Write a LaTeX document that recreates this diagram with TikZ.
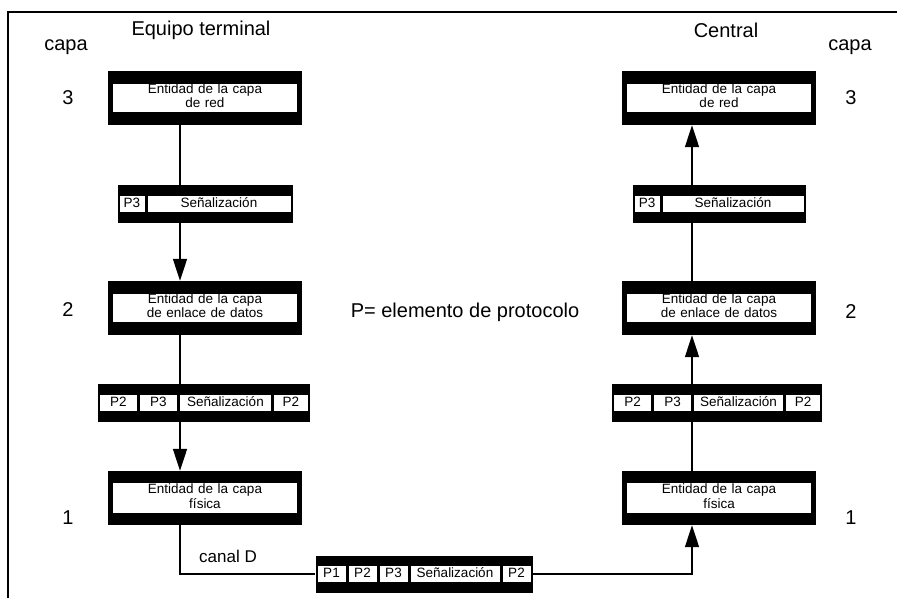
\documentclass[tikz,border=0pt]{standalone}
\usepackage{fontspec}
\setmainfont{Liberation Sans}
\usepackage{tikz}
\usetikzlibrary{arrows.meta,positioning}
\tikzset{
  entidad/.style={fill=black,minimum width=194pt,minimum height=54pt,inner sep=0pt},
  banda/.style={fill=white,text width=184pt,align=center,inner sep=0pt,
    font=\fontsize{13.5}{14}\selectfont},
  pdu/.style={fill=black,inner xsep=2pt,inner ysep=0pt,minimum height=38pt,
    font=\fontsize{13.5}{15}\selectfont},
  rotulo/.style={font=\fontsize{20}{24}\selectfont},
  enlace/.style={line width=1.5pt},
  flecha/.style={line width=1.5pt,-{Triangle[length=22pt,width=14pt]}},
}
\setlength{\fboxsep}{0.5pt}
% one white field of a protocol element
\newcommand{\campo}[2]{\colorbox{white}{\makebox[#1pt]{\strut #2}}}
% layer entity: black box with a white text band
\newcommand{\entidad}[3]{%
  \node[entidad] (#1) at (#2) {};
  \node[banda] (#1t) at (#1) {\strut #3\strut};}

\begin{document}
\begin{tikzpicture}[x=1pt,y=-1pt,line cap=butt,line join=miter]
  \useasboundingbox (0,0) rectangle (897,598);

  % ---- frame (runs off right and bottom) ----
  \draw[line width=1.8pt] (8,598) -- (8,12) -- (897,12);

  % ---- headings ----
  \node[rotulo] (tcapaL) at (66,47) {capa};
  \node[rotulo] (tcapaR) at (850,47) {capa};
  \node[rotulo] (tequipo) at (201,30) {Equipo terminal};
  \node[rotulo] (tcentral) at (726,30) {Central};
  \node[rotulo] (n3L) at (68,98) {3};
  \node[rotulo] (n3R) at (851,98) {3};
  \node[rotulo] (n2L) at (68,310) {2};
  \node[rotulo] (n2R) at (851,312) {2};
  \node[rotulo] (n1L) at (68,518) {1};
  \node[rotulo] (n1R) at (851,518) {1};
  \node[rotulo] (leyenda) at (465,312) {P= elemento de protocolo};

  % ---- layer entities ----
  \entidad{red1}{205,98}{Entidad de la capa\\de red}
  \entidad{red2}{719,98}{Entidad de la capa\\de red}
  \entidad{enl1}{205,308}{Entidad de la capa\\de enlace de datos}
  \entidad{enl2}{719,308}{Entidad de la capa\\de enlace de datos}
  \entidad{fis1}{205,498}{Entidad de la capa\\física}
  \entidad{fis2}{719,498}{Entidad de la capa\\física}

  % ---- protocol elements ----
  \node[pdu] (s3L) at (205,204) {\campo{24}{P3}\hspace{3pt}\campo{142}{Señalización}};
  \node[pdu] (s3R) at (719,204) {\campo{24}{P3}\hspace{3pt}\campo{140}{Señalización}};
  \node[pdu] (s2L) at (204,403) {\campo{36}{P2}\hspace{3pt}\campo{36}{P3}\hspace{3pt}%
    \campo{90}{Señalización}\hspace{3pt}\campo{33}{P2}};
  \node[pdu] (s2R) at (717,403) {\campo{36}{P2}\hspace{3pt}\campo{36}{P3}\hspace{3pt}%
    \campo{88}{Señalización}\hspace{3pt}\campo{33}{P2}};
  \node[pdu,minimum height=37pt] (s1) at (424,574) {\campo{27}{P1}\hspace{3pt}%
    \campo{27}{P2}\hspace{3pt}\campo{27}{P3}\hspace{3pt}\campo{88}{Señalización}%
    \hspace{3pt}\campo{27}{P2}};
  \node[rotulo,font=\fontsize{17}{20}\selectfont] (canal) at (228,556) {canal D};

  % ---- connectors ----
  \coordinate (ejeL) at (180,0);
  \coordinate (ejeR) at (692,0);
  \draw[enlace] (red1.south -| ejeL) -- (s3L.north -| ejeL);
  \draw[flecha] (s3L.south -| ejeL) -- (enl1.north -| ejeL);
  \draw[enlace] (enl1.south -| ejeL) -- (s2L.north -| ejeL);
  \draw[flecha] (s2L.south -| ejeL) -- (fis1.north -| ejeL);
  \draw[enlace] (fis1.south -| ejeL) |- (s1.west);
  \draw[flecha] (s1.east) -| (fis2.south -| ejeR);
  \draw[enlace] (fis2.north -| ejeR) -- (s2R.south -| ejeR);
  \draw[flecha] (s2R.north -| ejeR) -- (enl2.south -| ejeR);
  \draw[enlace] (enl2.north -| ejeR) -- (s3R.south -| ejeR);
  \draw[flecha] (s3R.north -| ejeR) -- (red2.south -| ejeR);
\end{tikzpicture}
\end{document}
